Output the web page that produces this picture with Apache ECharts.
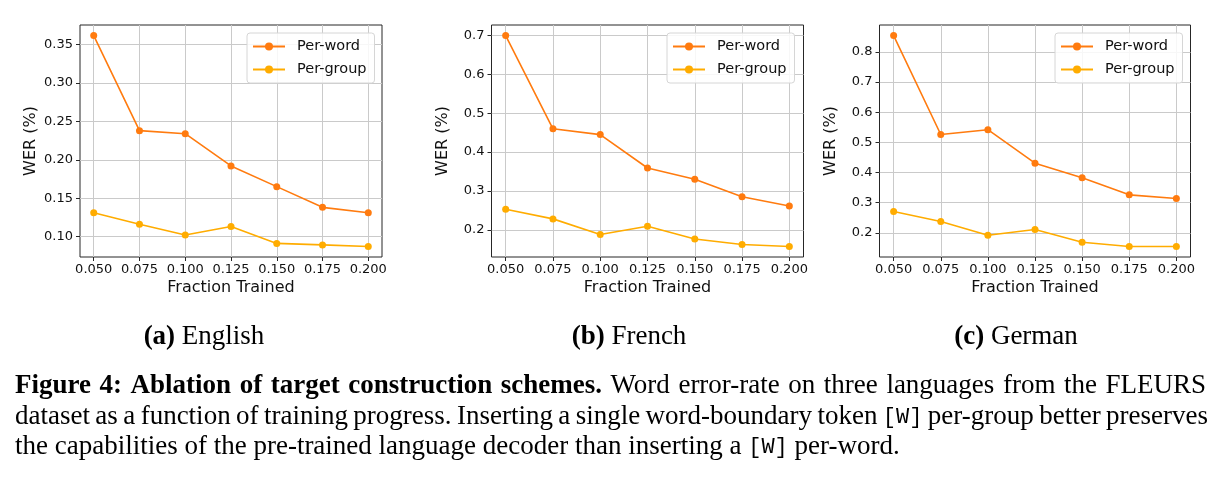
<!DOCTYPE html>
<html>
<head>
<meta charset="utf-8">
<script src="https://cdn.jsdelivr.net/npm/echarts@6/dist/echarts.min.js"></script>
<style>
  html, body { margin: 0; padding: 0; background: #fff; }
  #chart { width: 1219px; height: 478px; }
</style>
</head>
<body>
<div id="chart"></div>
<script>
// data
var fractions = [0.050, 0.075, 0.100, 0.125, 0.150, 0.175, 0.200];
var xTicks = [0.050, 0.075, 0.100, 0.125, 0.150, 0.175, 0.200];
var seriesNames = ['Per-word', 'Per-group'];

var englishPerWord  = [0.362, 0.238, 0.234, 0.192, 0.165, 0.138, 0.131];
var englishPerGroup = [0.131, 0.116, 0.102, 0.113, 0.091, 0.089, 0.087];
var frenchPerWord   = [0.700, 0.460, 0.445, 0.359, 0.330, 0.285, 0.261];
var frenchPerGroup  = [0.253, 0.228, 0.188, 0.209, 0.176, 0.162, 0.157];
var germanPerWord   = [0.854, 0.526, 0.542, 0.431, 0.383, 0.326, 0.314];
var germanPerGroup  = [0.271, 0.238, 0.192, 0.211, 0.169, 0.155, 0.155];

var englishYTicks = [0.10, 0.15, 0.20, 0.25, 0.30, 0.35];
var frenchYTicks  = [0.2, 0.3, 0.4, 0.5, 0.6, 0.7];
var germanYTicks  = [0.2, 0.3, 0.4, 0.5, 0.6, 0.7, 0.8];

var subLetters  = ['a', 'b', 'c'];
var subCaptions = ['English', 'French', 'German'];
// caption lines as [style, text] segments; b = bold, r = roman, m = typewriter
var captionLine1 = [['b', 'Figure 4: Ablation of target construction schemes.'],
                    ['r', 'Word error-rate on three languages from the FLEURS']];
var captionLine2 = [['r', 'dataset as a function of training progress. Inserting a single word-boundary token'],
                    ['m', '[W]'], ['r', 'per-group better preserves']];
var captionLine3 = [['r', 'the capabilities of the pre-trained language decoder than inserting a'],
                    ['m', '[W]'], ['r', 'per-word.']];

var colorWord = '#ff7b0f';
var colorGroup = '#ffac00';

// layout of the three panels
var panels = [
    { left: 80,    width: 302, word: englishPerWord, group: englishPerGroup, yTicks: englishYTicks, dec: 2, legendLeft: 247, capX: 204 },
    { left: 491.5, width: 312, word: frenchPerWord,  group: frenchPerGroup,  yTicks: frenchYTicks,  dec: 1, legendLeft: 667, capX: 629 },
    { left: 879.5, width: 311, word: germanPerWord,  group: germanPerGroup,  yTicks: germanYTicks,  dec: 1, legendLeft: 1055, capX: 1016 }
];
var gridTop = 25, gridHeight = 232;

// matplotlib style 5% margins
function padRange(arr, frac) {
    var lo = Math.min.apply(null, arr), hi = Math.max.apply(null, arr);
    var pad = (hi - lo) * frac;
    return [lo - pad, hi + pad];
}

var sans = 'DejaVu Sans';
var serif = 'Liberation Serif';
var mono = 'Liberation Mono';
var capSize = 27, monoSize = 22;
var fonts = {
    b: 'bold ' + capSize + 'px "' + serif + '"',
    r: capSize + 'px "' + serif + '"',
    m: monoSize + 'px "' + mono + '"'
};

var grids = [], xAxes = [], yAxes = [], series = [], legends = [], graphics = [];

panels.forEach(function (p, i) {
    grids.push({
        left: p.left, top: gridTop, width: p.width, height: gridHeight,
        show: true, borderColor: '#262626', borderWidth: 1, containLabel: false
    });
    var xr = padRange(fractions, 0.05);
    xAxes.push({
        type: 'value', gridIndex: i, min: xr[0], max: xr[1],
        name: 'Fraction Trained', nameLocation: 'middle', nameGap: 23,
        nameTextStyle: { fontFamily: sans, fontSize: 16, color: '#111' },
        axisLine: { show: false },
        axisTick: { show: true, inside: false, length: 4, customValues: xTicks, lineStyle: { color: '#262626' } },
        axisLabel: { customValues: xTicks, margin: 6, fontFamily: sans, fontSize: 13, color: '#111',
            formatter: function (v) { return v.toFixed(3); } },
        splitLine: { show: true, lineStyle: { color: '#cacaca', width: 1 } }
    });
    var yr = padRange(p.word.concat(p.group), 0.05);
    yAxes.push({
        type: 'value', gridIndex: i, min: yr[0], max: yr[1],
        name: 'WER (%)', nameLocation: 'middle', nameGap: 41,
        nameTextStyle: { fontFamily: sans, fontSize: 16, color: '#111' },
        axisLine: { show: false },
        axisTick: { show: true, inside: false, length: 4, customValues: p.yTicks, lineStyle: { color: '#262626' } },
        axisLabel: { customValues: p.yTicks, margin: 7, fontFamily: sans, fontSize: 13, color: '#111',
            formatter: (function (d) { return function (v) { return v.toFixed(d); }; })(p.dec) },
        splitLine: { show: true, lineStyle: { color: '#cacaca', width: 1 } }
    });
    [p.word, p.group].forEach(function (vals, k) {
        series.push({
            name: seriesNames[k], type: 'line', xAxisIndex: i, yAxisIndex: i,
            data: fractions.map(function (x, j) { return [x, vals[j]]; }),
            symbol: 'circle', symbolSize: 7, showSymbol: true,
            itemStyle: { color: k === 0 ? colorWord : colorGroup },
            lineStyle: { width: 1.6, color: k === 0 ? colorWord : colorGroup },
            emphasis: { disabled: true }
        });
    });
    legends.push({
        orient: 'vertical', left: p.legendLeft, top: 33,
        padding: [6, 8, 6, 5], itemWidth: 32, itemHeight: 10, itemGap: 8,
        backgroundColor: 'rgba(255,255,255,0.85)', borderColor: '#d6d6d6', borderWidth: 1, borderRadius: 3,
        textStyle: { fontFamily: sans, fontSize: 14.5, color: '#111', padding: [0, 0, 0, 7] },
        data: seriesNames, selectedMode: false
    });
    graphics.push({
        type: 'text', x: p.capX, y: 337,
        style: {
            text: '{bd|(' + subLetters[i] + ')} ' + subCaptions[i],
            fontFamily: serif, fontSize: 27, fill: '#000',
            textAlign: 'center', textVerticalAlign: 'middle',
            rich: { bd: { fontFamily: serif, fontSize: 27, fontWeight: 'bold', fill: '#000' } }
        }
    });
});

// caption: justified lines, laid out word by word
var measureCtx = document.createElement('canvas').getContext('2d');
function measure(txt, key) {
    measureCtx.font = fonts[key];
    return measureCtx.measureText(txt).width;
}
function textStyle(key) {
    return {
        fontFamily: key === 'm' ? mono : serif,
        fontSize: key === 'm' ? monoSize : capSize,
        fontWeight: key === 'b' ? 'bold' : 'normal',
        fill: '#000', textAlign: 'left', textVerticalAlign: 'middle'
    };
}
function addCaptionLine(segments, y, x0, x1, justify) {
    var words = [];
    segments.forEach(function (seg) {
        seg[1].split(' ').forEach(function (w) { words.push({ key: seg[0], text: w, w: measure(w, seg[0]) }); });
    });
    var total = words.reduce(function (s, w) { return s + w.w; }, 0);
    var gap = justify ? (x1 - x0 - total) / (words.length - 1) : measure(' ', 'r');
    var x = x0;
    words.forEach(function (w) {
        var st = textStyle(w.key);
        st.text = w.text;
        graphics.push({ type: 'text', x: x, y: y, style: st });
        x += w.w + gap;
    });
}
addCaptionLine(captionLine1, 386, 15, 1206, true);
addCaptionLine(captionLine2, 417, 15, 1208, true);
addCaptionLine(captionLine3, 447, 15, 1208, false);

var chart = echarts.init(document.getElementById('chart'), null, { renderer: 'canvas' });
chart.setOption({
    backgroundColor: '#fff',
    animation: false,
    grid: grids,
    xAxis: xAxes,
    yAxis: yAxes,
    legend: legends,
    series: series,
    graphic: graphics
});
</script>
</body>
</html>
